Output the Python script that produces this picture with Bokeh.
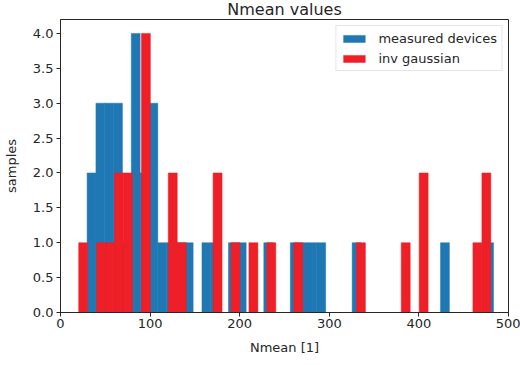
import numpy as np
from bokeh.plotting import figure
from bokeh.models import (ColumnDataSource, FixedTicker, Range1d, Legend, LegendItem,
                          NumeralTickFormatter)
from bokeh.embed import file_html
from bokeh.resources import INLINE

# ---- data ----
title_text = "Nmean values"
x_label = "Nmean [1]"
y_label = "samples"

measured_name = "measured devices"
measured_min = 29.7
measured_max = 483.3
measured_counts = [2, 3, 3, 3, 1, 4, 2, 3, 1, 1, 1, 1, 0, 1, 1, 0, 1, 1, 0, 0,
                   1, 0, 0, 1, 1, 1, 1, 0, 0, 0, 1, 0, 0, 0, 0, 0, 0, 0, 0, 0,
                   1, 0, 0, 0, 0, 1]

invg_name = "inv gaussian"
invg_min = 20.3
invg_max = 480.3
invg_counts = [1, 0, 1, 1, 2, 2, 0, 4, 0, 0, 2, 1, 0, 0, 0, 2, 0, 1, 0, 1,
               0, 1, 0, 0, 1, 0, 0, 0, 0, 0, 0, 1, 0, 0, 0, 0, 1, 0, 2, 0,
               0, 0, 0, 0, 1, 2]

x_ticks = [0, 100, 200, 300, 400, 500]
y_ticks = [0.0, 0.5, 1.0, 1.5, 2.0, 2.5, 3.0, 3.5, 4.0]
x_lim = (0, 500)
y_lim = (0, 4.2)

BLUE = "#1f77b4"
RED = "#ee1f26"
FONT = "DejaVu Sans"
TXT = "#262626"


def hist_source(vmin, vmax, counts):
    edges = np.linspace(vmin, vmax, len(counts) + 1)
    c = np.asarray(counts, dtype=float)
    keep = c > 0
    return ColumnDataSource(dict(left=edges[:-1][keep], right=edges[1:][keep],
                                 top=c[keep], bottom=np.zeros(keep.sum())))


p = figure(width=520, height=365, output_backend="svg", toolbar_location=None,
           x_range=Range1d(*x_lim), y_range=Range1d(*y_lim),
           min_border_left=59, min_border_right=12, min_border_top=0, min_border_bottom=53)
p.title.text = title_text
p.title.align = "center"
p.title.vertical_align = "top"
p.title.text_font = FONT
p.title.text_font_size = "16px"
p.title.text_font_style = "normal"
p.title.text_color = TXT
p.title.text_line_height = 0.8
p.title.offset = 0
p.title.standoff = -2

p.xgrid.visible = False
p.ygrid.visible = False
p.outline_line_color = TXT
p.outline_line_width = 1
p.background_fill_color = "white"
p.border_fill_color = "white"

r1 = p.quad(source=hist_source(measured_min, measured_max, measured_counts),
            left="left", right="right", top="top", bottom="bottom",
            fill_color=BLUE, line_color=BLUE, line_width=0.5)
r2 = p.quad(source=hist_source(invg_min, invg_max, invg_counts),
            left="left", right="right", top="top", bottom="bottom",
            fill_color=RED, line_color=RED, line_width=0.5)

for ax in (p.xaxis[0], p.yaxis[0]):
    ax.axis_line_color = TXT
    ax.major_tick_line_color = TXT
    ax.major_tick_out = 4
    ax.major_tick_in = 0
    ax.minor_tick_line_color = None
    ax.major_label_text_font = FONT
    ax.major_label_text_font_size = "13px"
    ax.major_label_text_color = TXT
    ax.axis_label_text_font = FONT
    ax.axis_label_text_font_size = "13px"
    ax.axis_label_text_font_style = "normal"
    ax.axis_label_text_color = TXT

p.xaxis[0].major_label_standoff = 2
p.yaxis[0].major_label_standoff = 3
p.xaxis[0].ticker = FixedTicker(ticks=x_ticks)
p.yaxis[0].ticker = FixedTicker(ticks=y_ticks)
p.yaxis[0].formatter = NumeralTickFormatter(format="0.0")
p.xaxis[0].axis_label = x_label
p.yaxis[0].axis_label = y_label
p.xaxis[0].axis_label_standoff = 9
p.yaxis[0].axis_label_standoff = 11

legend = Legend(items=[LegendItem(label=measured_name, renderers=[r1]),
                       LegendItem(label=invg_name, renderers=[r2])],
                location="top_right", margin=6, padding=4,
                glyph_width=27, glyph_height=9, label_standoff=11,
                label_height=16, spacing=4,
                label_text_font=FONT, label_text_font_size="13px",
                label_text_color=TXT,
                border_line_color="#cccccc", border_line_width=1,
                background_fill_color="white", background_fill_alpha=0.8)
p.add_layout(legend)

open("out.html", "w").write(file_html(p, INLINE))
